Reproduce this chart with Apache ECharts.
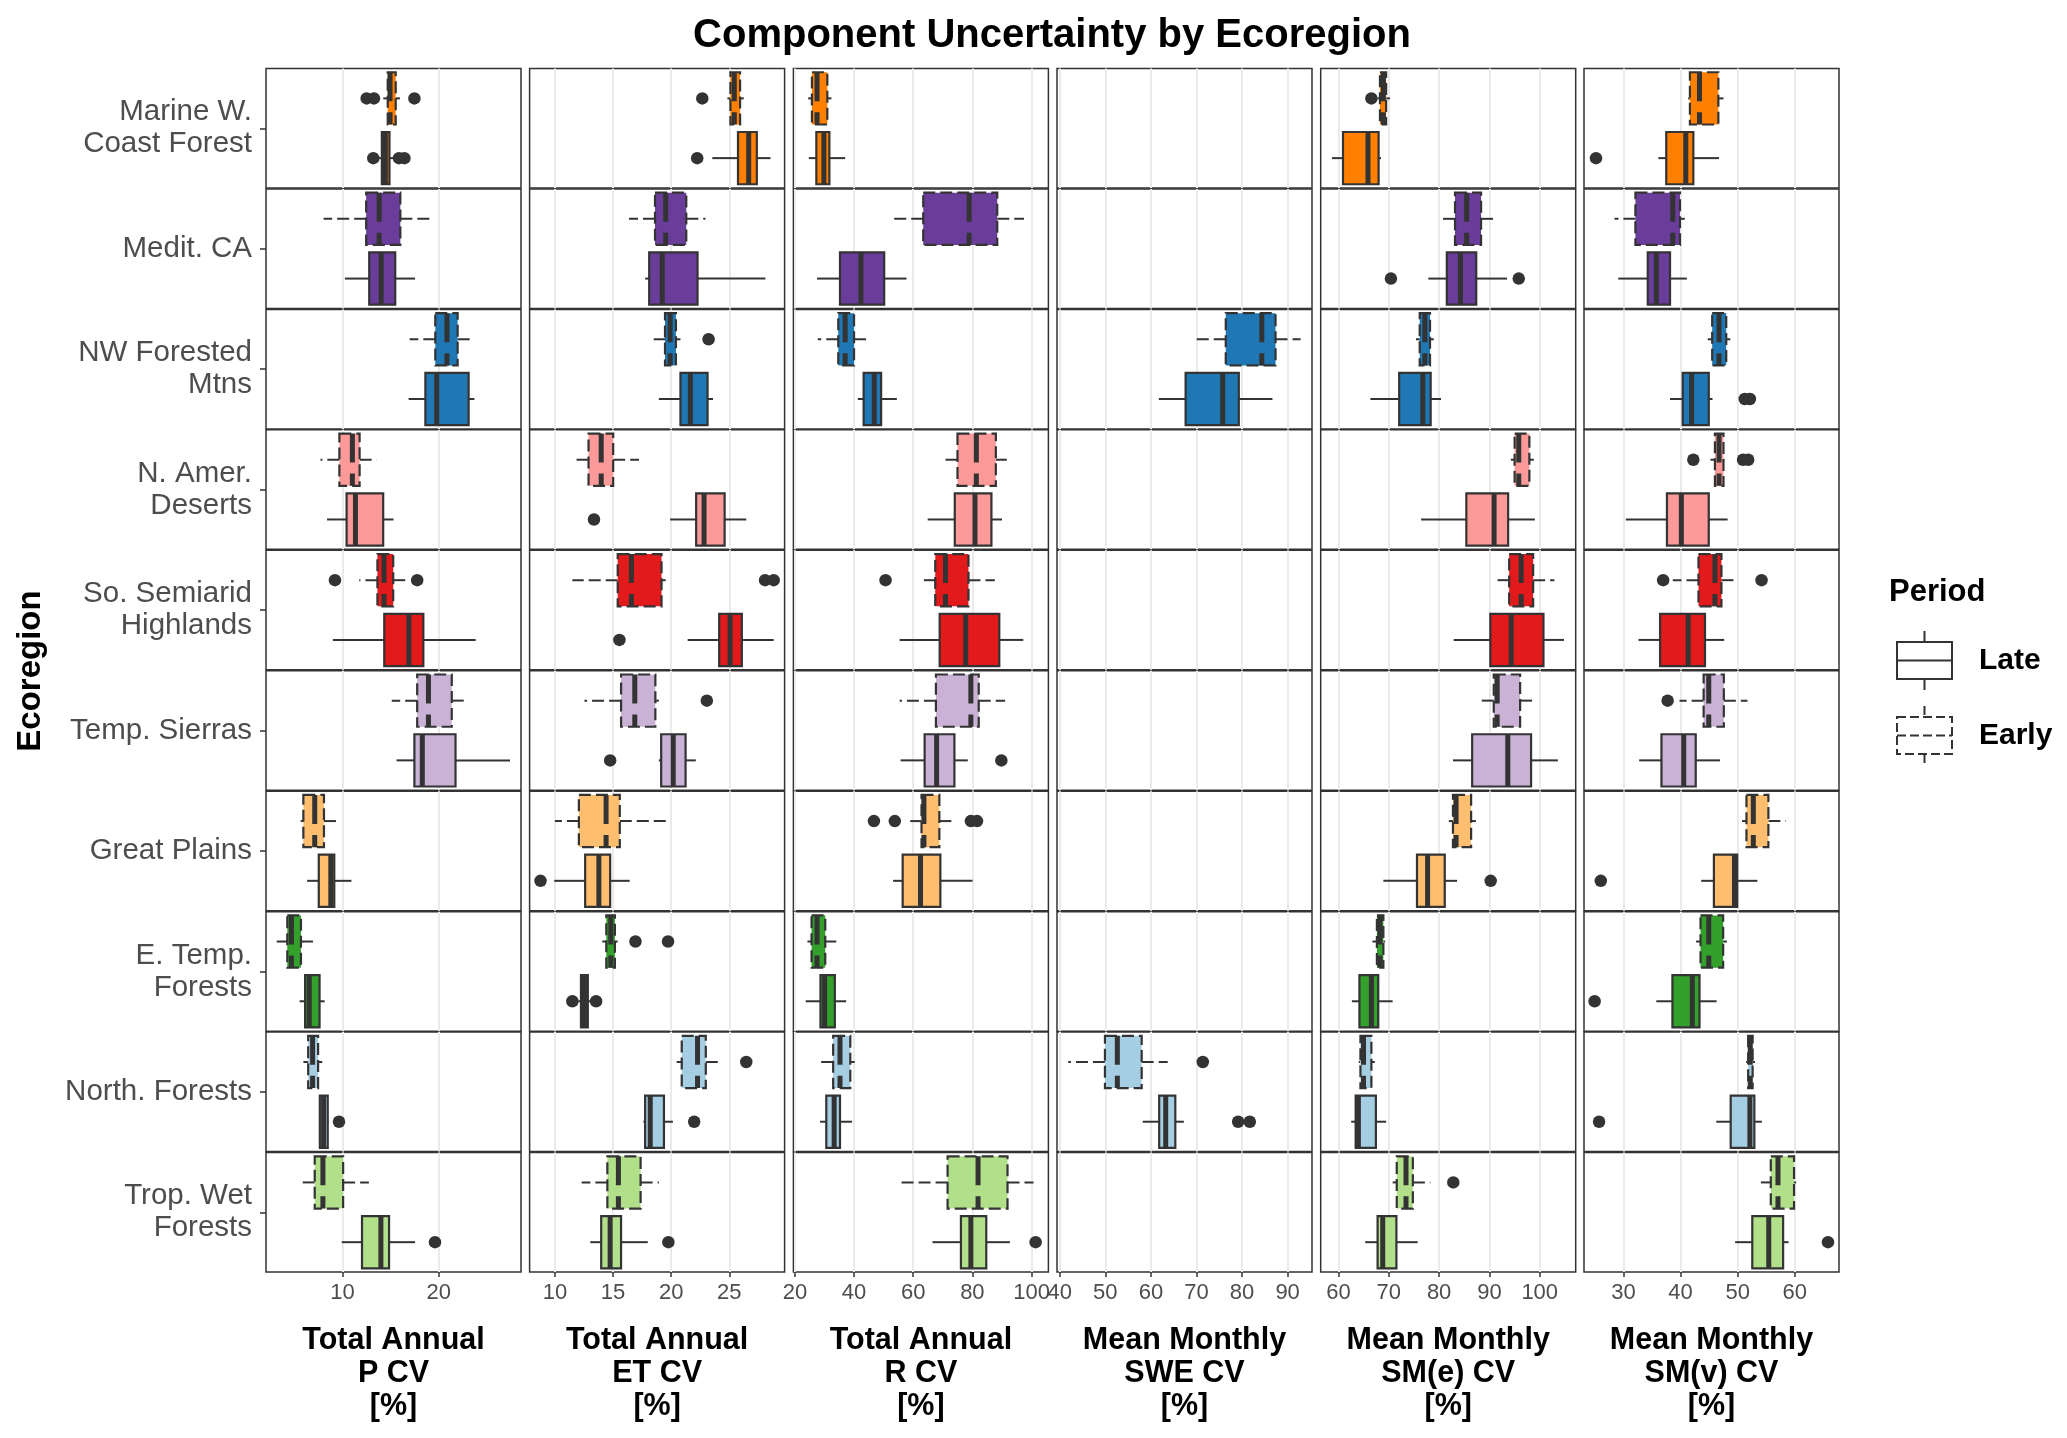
<!DOCTYPE html>
<html>
<head>
<meta charset="utf-8">
<script src="https://cdn.jsdelivr.net/npm/echarts@6/dist/echarts.min.js"></script>
<style>
html,body{margin:0;padding:0;background:#ffffff;}
#chart{width:2067px;height:1438px;}
</style>
</head>
<body>
<div id="chart"></div>
<script>
// ---------- categories ----------
const ecoregions = ['Marine W.\nCoast Forest', 'Medit. CA', 'NW Forested\nMtns', 'N. Amer.\nDeserts',
  'So. Semiarid\nHighlands', 'Temp. Sierras', 'Great Plains', 'E. Temp.\nForests', 'North. Forests', 'Trop. Wet\nForests'];
const regionColors = ['#FF7F00', '#6A3D9A', '#1F78B4', '#FB9A99', '#E31A1C', '#CAB2D6', '#FDBF6F', '#33A02C', '#A6CEE3', '#B2DF8A'];
const periods = ['Late', 'Early'];
const componentTitles = ['Total Annual\nP CV\n[%]', 'Total Annual\nET CV\n[%]', 'Total Annual\nR CV\n[%]',
  'Mean Monthly\nSWE CV\n[%]', 'Mean Monthly\nSM(e) CV\n[%]', 'Mean Monthly\nSM(v) CV\n[%]'];

// ---------- axes ----------
const axisMin = [2.06, 7.82, 19.5, 39.4, 56.46, 23.1];
const axisMax = [28.54, 29.76, 105.7, 95.35, 107.15, 67.74];
const tickP = [10, 20];
const tickET = [10, 15, 20, 25];
const tickR = [20, 40, 60, 80, 100];
const tickSWE = [40, 50, 60, 70, 80, 90];
const tickSMe = [60, 70, 80, 90, 100];
const tickSMv = [30, 40, 50, 60];

// ---------- box stats [lower whisker, q1, median, q3, upper whisker] per ecoregion ----------
const pEarly = [[14.24,14.70,14.94,15.53,15.98],[8.04,12.46,13.81,16.01,19.54],[16.98,19.64,20.85,21.96,23.38],[7.72,9.68,11.03,11.78,13.56],[11.74,13.63,14.31,15.27,16.76],[15.12,17.76,18.93,21.35,23.06],[5.66,5.94,7.12,8.08,9.54],[3.17,4.27,4.70,5.69,7.15],[5.94,6.44,6.90,7.47,7.90],[5.73,7.12,7.97,10.07,12.74]];
const pLate = [[13.6,14.09,14.45,14.88,15.4],[10.25,12.78,14.02,15.48,17.54],[16.87,18.61,19.79,23.10,23.70],[8.40,10.43,11.35,14.23,15.30],[9.00,14.34,16.90,18.40,23.84],[15.62,17.47,18.29,21.74,27.40],[6.33,7.54,8.79,9.15,10.93],[5.55,6.12,6.55,7.62,8.15],[7.58,7.65,8.04,8.47,8.54],[9.93,12.03,13.99,14.84,17.54]];
const pEarlyOut = [[12.51,13.27,17.47],[],[],[],[9.22,17.76],[],[],[],[],[]];
const pLateOut = [[13.2,15.87,16.43],[],[],[],[],[],[],[],[9.64],[19.61]];

const etEarly = [[24.84,25.10,25.43,25.93,26.25],[16.37,18.61,19.53,21.30,22.95],[18.50,19.47,19.91,20.41,20.80],[11.86,12.89,13.98,15.01,17.23],[11.50,15.40,16.58,19.17,19.53],[12.54,15.69,16.87,18.64,18.94],[10.00,12.06,14.40,15.58,19.71],[14.07,14.42,14.81,15.16,15.40],[20.47,20.91,22.27,22.98,24.04],[12.30,14.51,15.46,17.37,18.94]];
const etLate = [[23.54,25.75,26.67,27.37,28.55],[17.76,18.11,19.23,22.27,28.11],[18.94,20.80,21.65,23.13,23.60],[19.91,22.15,22.83,24.60,26.46],[21.42,24.13,25.07,26.08,28.82],[18.94,19.14,20.18,21.24,22.12],[9.94,12.60,13.78,14.75,16.43],[12.0,12.24,12.54,12.83,13.1],[17.61,17.76,18.20,19.38,20.15],[13.04,13.98,14.75,15.69,17.99]];
const etEarlyOut = [[22.68],[],[23.22],[],[28.08,28.82],[23.07],[],[16.93,19.73],[26.46],[]];
const etLateOut = [[22.24],[],[],[13.36],[15.55],[14.75],[8.76],[11.50,13.54],[21.98],[19.76]];

const rEarly = [[24.48,25.76,27.49,30.97,32.36],[52.39,63.39,78.91,88.41,97.44],[27.72,34.67,36.99,40.00,44.63],[69.76,74.97,81.34,87.94,91.65],[63.62,67.45,70.92,78.68,87.60],[55.40,67.68,79.49,82.15,91.07],[58.99,62.81,63.62,68.84,74.05],[24.25,25.64,27.49,30.27,33.98],[27.72,32.94,35.25,38.73,40.23],[54.36,71.62,81.92,91.88,100.68]];
const rLate = [[24.71,27.26,29.8,31.66,36.99],[27.49,35.25,42.32,50.19,57.72],[41.27,43.24,46.83,49.15,54.48],[64.90,74.05,80.88,86.44,90.03],[55.40,68.95,77.75,89.10,97.21],[55.75,63.86,67.91,73.93,78.45],[53.20,56.44,62.47,69.18,80.07],[23.67,28.65,30.04,33.51,37.34],[28.54,30.62,33.28,35.25,39.31],[66.52,76.13,79.49,84.70,92.69]];
const rEarlyOut = [[],[],[],[],[50.65],[],[46.72,53.78,79.49,81.57],[],[],[]];
const rLateOut = [[],[],[],[],[],[89.80],[],[],[],[101.38]];

const sweEarly = [null,null,[69.50,76.43,84.34,87.35,92.85],null,null,null,null,null,[41.87,49.92,52.64,57.98,63.70],null];
const sweLate = [null,null,[61.75,67.62,75.75,79.29,86.67],null,null,null,null,null,[58.21,61.82,63.25,65.36,67.24],null];
const sweEarlyOut = [[],[],[],[],[],[],[],[],[71.39],[]];
const sweLateOut = [[],[],[],[],[],[],[],[],[79.14,81.70],[]];

const smeEarly = [[67.77,68.24,68.92,69.47,70.22],[80.30,83.16,85.48,88.34,90.72],[75.40,76.14,77.17,78.19,78.94],[94.26,95.01,95.83,97.94,98.83],[91.61,93.92,96.31,98.69,102.92],[88.34,90.86,91.54,96.10,99.17],[81.93,82.75,83.37,86.36,87.32],[66.74,67.63,68.24,68.92,69.26],[64.02,64.36,64.97,66.54,67.22],[70.76,71.58,73.42,74.78,78.26]];
const smeLate = [[58.71,60.89,65.86,67.97,68.45],[77.85,81.53,84.25,87.38,93.51],[66.34,72.06,76.76,78.32,80.37],[76.42,85.41,90.93,93.72,99.03],[82.89,90.18,94.33,100.74,104.82],[82.75,86.57,93.65,98.28,103.60],[68.92,75.60,77.71,81.12,83.57],[62.66,64.16,66.54,67.90,70.76],[62.52,63.41,63.95,67.43,69.47],[65.31,67.77,68.79,71.51,75.74]];
const smeEarlyOut = [[66.54],[],[],[],[],[],[],[],[],[82.82]];
const smeLateOut = [[],[70.42,95.83],[],[],[],[],[90.25],[],[],[]];

const smvEarly = [[41.34,41.64,43.32,46.62,47.52],[28.44,32.10,38.64,39.90,40.74],[44.76,45.54,46.74,48.00,48.72],[45.24,46.02,46.74,47.52,47.64],[38.64,43.14,46.02,47.16,50.04],[39.82,44.04,44.94,47.58,51.72],[50.76,51.54,52.74,55.38,58.43],[42.72,43.50,44.94,47.46,48.12],[51.48,51.84,52.20,52.62,53.04],[54.06,55.80,57.06,59.87,60.24]];
const smvLate = [[36.12,37.50,40.92,42.24,46.74],[29.10,34.26,35.76,38.16,41.10],[38.16,40.38,41.94,44.94,45.60],[30.42,37.62,40.14,44.94,48.24],[32.64,36.42,41.34,44.28,47.64],[32.76,36.66,40.56,42.66,46.92],[43.62,45.84,49.44,49.92,53.46],[35.76,38.58,42.06,43.32,46.32],[46.26,48.78,52.14,52.92,54.24],[49.56,52.56,55.44,57.96,58.91]];
const smvEarlyOut = [[],[],[],[42.24,50.94,51.84],[36.96,54.18],[37.74],[],[],[],[]];
const smvLateOut = [[25.20],[],[51.24,52.14],[],[],[],[26.04],[24.96],[25.74],[65.81]];

// ---------- assemble ----------
const components = [
  {early: pEarly, late: pLate, earlyOut: pEarlyOut, lateOut: pLateOut, ticks: tickP},
  {early: etEarly, late: etLate, earlyOut: etEarlyOut, lateOut: etLateOut, ticks: tickET},
  {early: rEarly, late: rLate, earlyOut: rEarlyOut, lateOut: rLateOut, ticks: tickR},
  {early: sweEarly, late: sweLate, earlyOut: sweEarlyOut, lateOut: sweLateOut, ticks: tickSWE},
  {early: smeEarly, late: smeLate, earlyOut: smeEarlyOut, lateOut: smeLateOut, ticks: tickSMe},
  {early: smvEarly, late: smvLate, earlyOut: smvEarlyOut, lateOut: smvLateOut, ticks: tickSMv}
];

const FONT = '"Liberation Sans", Arial, sans-serif';
const colLeft = [266, 529.6, 793.4, 1057, 1320.7, 1584];
const panelW = 255;
const rowTop0 = 68.5;
const rowStep = 120.45;
const panelH = 119.5;
const INK = '#333333';

function makeRender(fill, dashed) {
  return function (params, api) {
    const c = api.value(0);
    const pLo = api.coord([api.value(1), c]);
    const pQ1 = api.coord([api.value(2), c]);
    const pMd = api.coord([api.value(3), c]);
    const pQ3 = api.coord([api.value(4), c]);
    const pHi = api.coord([api.value(5), c]);
    const band = api.size([0, 1])[1];
    const h = band * 0.875;
    const y = pMd[1];
    const lineSt = {stroke: INK, lineWidth: 2};
    const boxSt = {fill: fill, stroke: INK, lineWidth: 2.2};
    const medSt = {stroke: INK, lineWidth: 5};
    if (dashed) {
      lineSt.lineDash = [12, 5];
      boxSt.lineDash = [12, 5];
      medSt.lineDash = [29, 11];
    }
    return {
      type: 'group',
      children: [
        {type: 'line', shape: {x1: pQ1[0], y1: y, x2: pLo[0], y2: y}, style: Object.assign({}, lineSt)},
        {type: 'line', shape: {x1: pQ3[0], y1: y, x2: pHi[0], y2: y}, style: Object.assign({}, lineSt)},
        {type: 'rect', shape: {x: pQ1[0], y: y - h / 2, width: pQ3[0] - pQ1[0], height: h}, style: boxSt},
        {type: 'line', shape: {x1: pMd[0], y1: y - h / 2, x2: pMd[0], y2: y + h / 2}, style: medSt}
      ]
    };
  };
}

const grids = [], xAxes = [], yAxes = [], series = [];
for (let r = 0; r < ecoregions.length; r++) {
  for (let c = 0; c < components.length; c++) {
    const g = grids.length;
    const bottom = (r === ecoregions.length - 1);
    const comp = components[c];
    grids.push({
      left: colLeft[c], top: rowTop0 + r * rowStep, width: panelW, height: panelH,
      show: true, borderColor: INK, borderWidth: 1.5, backgroundColor: '#ffffff'
    });
    xAxes.push({
      gridIndex: g, type: 'value', min: axisMin[c], max: axisMax[c], position: 'bottom',
      axisLine: {show: false},
      axisTick: {show: bottom, length: 5, customValues: comp.ticks, lineStyle: {color: INK, width: 1.5}},
      axisLabel: {show: bottom, customValues: comp.ticks, margin: 10, fontSize: 22, color: '#4D4D4D', fontFamily: FONT},
      splitLine: {show: true, lineStyle: {color: '#EBEBEB', width: 2}},
      name: bottom ? componentTitles[c] : '',
      nameLocation: 'middle', nameGap: 52,
      nameTextStyle: {fontSize: 30.5, fontWeight: 'bold', color: '#000000', lineHeight: 33, fontFamily: FONT}
    });
    const yCat = yAxes.length;
    yAxes.push({gridIndex: g, type: 'category', data: periods, show: false, position: 'left'});
    if (c === 0) {
      yAxes.push({
        gridIndex: g, type: 'value', min: 0, max: 1, position: 'left', offset: 0,
        axisLine: {show: false},
        axisTick: {show: true, customValues: [0.5], length: 6, lineStyle: {color: INK, width: 1.5}},
        axisLabel: {show: false, customValues: [0.5]},
        splitLine: {show: false},
        name: ecoregions[r], nameLocation: 'middle', nameRotate: 0, nameGap: 14,
        nameTextStyle: {align: 'right', verticalAlign: 'middle', fontSize: 29.5, lineHeight: 32, color: '#4D4D4D', fontFamily: FONT}
      });
    }
    const fill = regionColors[r];
    if (comp.early[r]) {
      series.push({
        type: 'custom', name: 'Early', xAxisIndex: g, yAxisIndex: yCat, clip: false, z: 3,
        renderItem: makeRender(fill, true),
        encode: {x: [1, 2, 3, 4, 5], y: 0},
        data: [[1].concat(comp.early[r])]
      });
    }
    if (comp.late[r]) {
      series.push({
        type: 'custom', name: 'Late', xAxisIndex: g, yAxisIndex: yCat, clip: false, z: 3,
        renderItem: makeRender(fill, false),
        encode: {x: [1, 2, 3, 4, 5], y: 0},
        data: [[0].concat(comp.late[r])]
      });
    }
    const outs = comp.earlyOut[r].map(v => [v, 1]).concat(comp.lateOut[r].map(v => [v, 0]));
    if (outs.length) {
      series.push({
        type: 'scatter', name: 'outlier', xAxisIndex: g, yAxisIndex: yCat, z: 4,
        symbol: 'circle', symbolSize: 12.5, itemStyle: {color: INK, opacity: 1},
        data: outs
      });
    }
  }
}

const boxIcon = 'path://M27.5,0V11M0,11H55V48H0ZM0,29.5H55M27.5,48V59';

const chart = echarts.init(document.getElementById('chart'), null, {renderer: 'canvas', width: 2067, height: 1438});
chart.setOption({
  animation: false,
  backgroundColor: '#ffffff',
  title: {
    text: 'Component Uncertainty by Ecoregion', left: 1052, top: 16, textAlign: 'center', padding: 0,
    textStyle: {fontSize: 40, fontWeight: 'bold', color: '#000000', fontFamily: FONT}
  },
  legend: {
    orient: 'vertical', left: 1896, top: 630, padding: 0,
    itemWidth: 55, itemHeight: 59, itemGap: 14, selectedMode: false,
    textStyle: {fontSize: 30, fontWeight: 'bold', color: '#000000', fontFamily: FONT, padding: [0, 0, 0, 22]},
    data: [
      {name: 'Late', icon: boxIcon, itemStyle: {color: '#ffffff', borderColor: INK, borderWidth: 2}},
      {name: 'Early', icon: boxIcon, itemStyle: {color: '#ffffff', borderColor: INK, borderWidth: 2, borderType: [9, 4]}}
    ]
  },
  graphic: [
    {type: 'text', x: 31, y: 671, rotation: Math.PI / 2,
      style: {text: 'Ecoregion', fill: '#000000', fontSize: 33, fontWeight: 'bold', fontFamily: FONT, align: 'center', verticalAlign: 'middle'}},
    {type: 'text', x: 1889, y: 592,
      style: {text: 'Period', fill: '#000000', fontSize: 31, fontWeight: 'bold', fontFamily: FONT, align: 'left', verticalAlign: 'middle'}}
  ],
  grid: grids,
  xAxis: xAxes,
  yAxis: yAxes,
  series: series
});
</script>
</body>
</html>
